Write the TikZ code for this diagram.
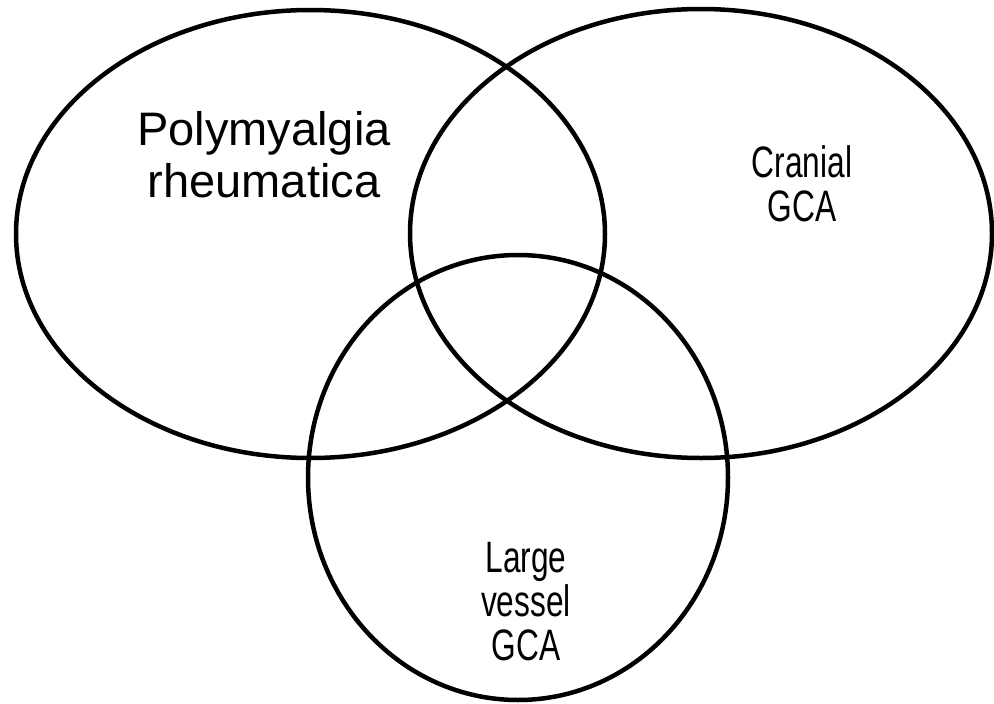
\documentclass[tikz,border=0pt]{standalone}
\usepackage{fontspec}
\setmainfont{Liberation Sans}
\begin{document}
\begin{tikzpicture}[x=1pt,y=-1pt]
  \tikzset{
    setline/.style={line width=4.5pt},
    biglabel/.style={font=\fontsize{47}{52}\selectfont, align=center},
    smalllabel/.style={font=\fontsize{44}{44}\selectfont, align=center, xscale=0.72}
  }
  \useasboundingbox (0,0) rectangle (994,704);
  % the three sets
  \draw[setline] (310.5,234) ellipse [x radius=294.5pt, y radius=224pt];
  \draw[setline] (701,233.5) ellipse [x radius=291pt, y radius=224.5pt];
  \draw[setline] (518,477.5) ellipse [x radius=210pt, y radius=222.5pt];
  % labels
  \node[biglabel] (pmr) at (264,155) {Polymyalgia\\rheumatica};
  \node[smalllabel] (cranial) at (802,184) {Cranial\\GCA};
  \node[smalllabel] (lvgca) at (526,602) {Large\\vessel\\GCA};
\end{tikzpicture}
\end{document}
